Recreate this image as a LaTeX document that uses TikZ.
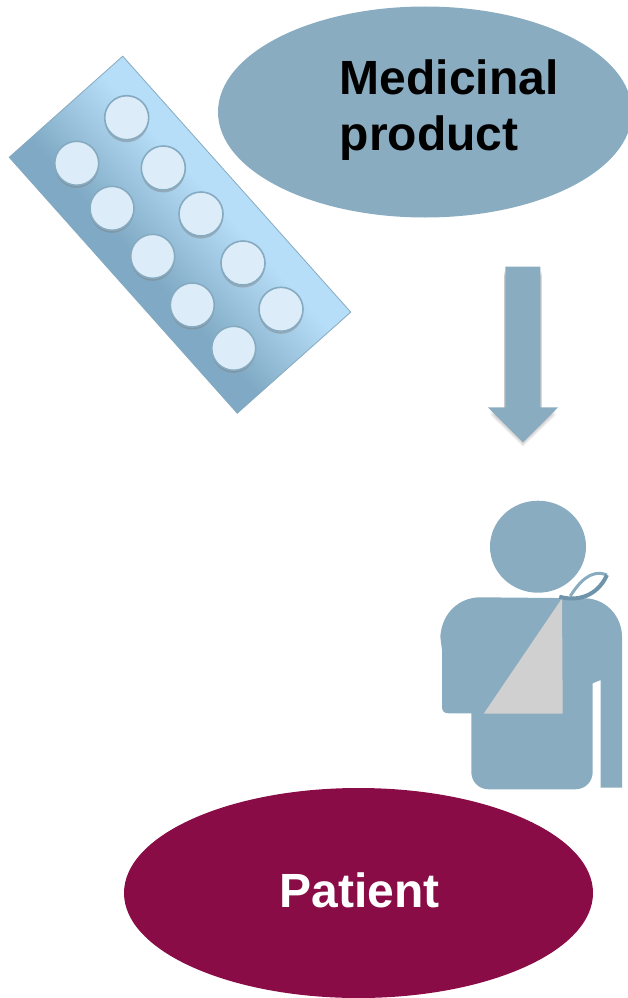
\documentclass[tikz,border=0pt]{standalone}
\usepackage{fontspec}
\setmainfont{Liberation Sans}
\usetikzlibrary{shapes.geometric, shadows}
\definecolor{slateblue}{HTML}{8AACC0}
\definecolor{slatedark}{HTML}{6F93A8}
\definecolor{wine}{HTML}{8A0C47}
\definecolor{blisterlight}{HTML}{B6DEF8}
\definecolor{blistermid}{HTML}{9CC4DE}
\definecolor{blisterdark}{HTML}{7FA9C4}
\definecolor{pillfill}{HTML}{DCEDF9}
\definecolor{pilledge}{HTML}{86AAC0}
\definecolor{slinggray}{HTML}{D0D0D0}
\pgfdeclareverticalshading{blistershade}{100bp}{color(0bp)=(blisterdark); color(43bp)=(blisterdark);
  color(50bp)=(blistermid); color(57bp)=(blisterlight); color(100bp)=(blisterlight)}

\begin{document}
\begin{tikzpicture}[x=1pt, y=-1pt,
    blob/.style={ellipse, inner sep=0pt, minimum width=#1},
    bigtext/.style={font=\fontsize{48}{56}\selectfont\bfseries, inner sep=0pt},
    pill/.style={circle, inner sep=0pt, minimum size=44pt, fill=pillfill, draw=pilledge, line width=1.6pt,
      drop shadow={shadow xshift=0pt, shadow yshift=-2.5pt, opacity=0.45}}]
    \useasboundingbox (0,0) rectangle (627,998);
    % Ellipses
    \node[blob=414pt, minimum height=211pt, fill=slateblue] (product) at (425,112) {};
    \node[bigtext, align=left, anchor=west] (productlabel) at (339.5,110.5) {Medicinal\\product};
    \node[blob=469pt, minimum height=210pt, fill=wine] (patient) at (358.5,893) {};
    \node[bigtext, text=white] (patientlabel) at (359.5,890) {Patient};
    % Blister
    \node[rectangle, inner sep=0pt, minimum width=342.8pt, minimum height=152pt, rotate=-48.3,
      shading=blistershade, shading angle=-48.3,
      draw=pilledge, line width=0.8pt] (blister) at (180,234.7) {};
    % Pills
    \foreach \px/\py/\pname in {
      126.7/117.7/a,
      76.7/163.3/b,
      163.3/168/c,
      112/208.3/d,
      201/214/e,
      152.7/256.3/f,
      243/263/g,
      192.3/305/h,
      281/309.3/i,
      233.7/348.3/j
    }
    {
      \node[pill] (pill\pname) at (\px,\py) {};
    }
    % Arrow, soft shadow first
    \foreach \off in {1,2,...,6} {
      \fill[black, opacity=0.04, shift={(0,\off)}]
        (504,270) -- (541.5,270) -- (541.5,409) -- (556,409) -- (523,441)
        -- (490,409) -- (504,409) -- cycle;
    }
    \fill[slateblue]
      (505.3,266.7) -- (540.3,266.7) -- (540.3,407.3) -- (558,407.3) -- (523,442.3)
      -- (488,407.3) -- (505.3,407.3) -- cycle;
    % Person
    \fill[slateblue] (538,546.7) ellipse (48 and 46);
    \fill[slateblue] (480.3,597.3) -- (587,598.3)
      .. controls (608,600) and (622,618) .. (622,636.7)
      -- (622,787.7) -- (600.7,787.7) -- (600.7,680) -- (592.7,683.3) -- (592.7,771.7)
      .. controls (592.7,782) and (585,789.3) .. (575.3,789.3)
      -- (488.7,789.3)
      .. controls (479,789.3) and (471.3,782) .. (471.3,771.7)
      -- (471.3,713.3) -- (448.7,713.3)
      .. controls (444,713.3) and (442,711) .. (442,706.7)
      -- (442,650) -- (440.3,636.7)
      .. controls (442,612) and (460,597.3) .. (480.3,597.3) -- cycle;
    % Sling
    \fill[slinggray] (562,598.3) -- (562.7,713.7) -- (483.7,713.7) -- cycle;
    \draw[slateblue, line width=3pt] (607,575) .. controls (590.3,568.3) and (578.7,583.3) .. (570.3,596);
    \draw[slatedark, line width=4pt] (559.3,596.7) .. controls (577,601.7) and (597,596.7) .. (607,575);
\end{tikzpicture}
\end{document}
